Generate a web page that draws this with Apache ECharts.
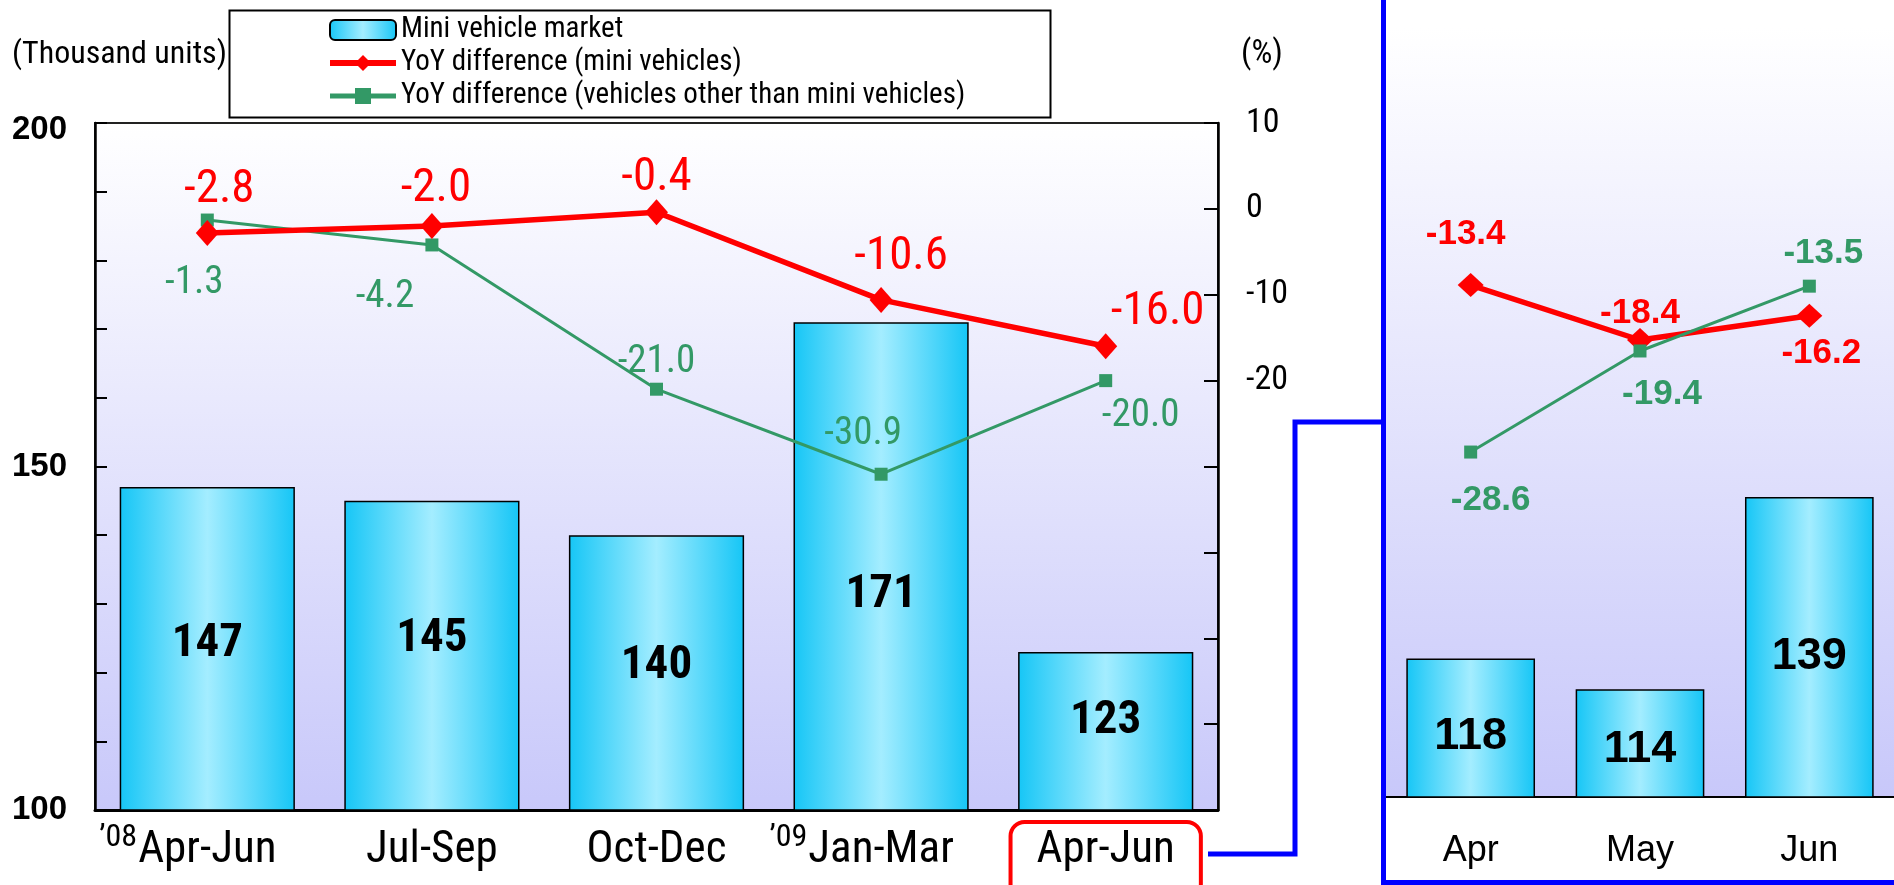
<!DOCTYPE html>
<html>
<head>
<meta charset="utf-8">
<script src="https://cdn.jsdelivr.net/npm/echarts@6/dist/echarts.min.js"></script>
<style>
  html, body { margin: 0; padding: 0; background: #ffffff; }
  #chart { width: 1894px; height: 885px; }
</style>
</head>
<body>
<div id="chart"></div>
<script>
// ---------- data ----------
const quarterLabels = ['Apr-Jun', 'Jul-Sep', 'Oct-Dec', 'Jan-Mar', 'Apr-Jun'];
const quarterYears = ['\u201908', '', '', '\u201909', ''];
const quarterMarket = [147, 145, 140, 171, 123];
const quarterMiniYoY = [-2.8, -2.0, -0.4, -10.6, -16.0];
const quarterOtherYoY = [-1.3, -4.2, -21.0, -30.9, -20.0];

const monthLabels = ['Apr', 'May', 'Jun'];
const monthMarket = [118, 114, 139];
const monthMiniYoY = [-13.4, -18.4, -16.2];
const monthOtherYoY = [-28.6, -19.4, -13.5];

const leftTicks = { min: 100, max: 200, step: 10 };
const rightTicks = { min: -70, max: 10, step: 10 };

const NAME_BAR = 'Mini vehicle market';
const NAME_MINI = 'YoY difference (mini vehicles)';
const NAME_OTHER = 'YoY difference (vehicles other than mini vehicles)';

// ---------- styles ----------
const NARROW = "'Roboto Condensed', 'Open Sans', sans-serif";
const SANS = "'Liberation Sans', Arial, 'DejaVu Sans', sans-serif";
const RED = '#ff0000';
const GREEN = '#339966';

const barFill = {
  type: 'linear', x: 0, y: 0, x2: 1, y2: 0,
  colorStops: [
    { offset: 0, color: '#16c6f6' },
    { offset: 0.5, color: '#a4edff' },
    { offset: 1, color: '#16c6f6' }
  ]
};
const plotBg = {
  type: 'linear', x: 0, y: 0, x2: 0, y2: 1,
  colorStops: [
    { offset: 0, color: '#ffffff' },
    { offset: 1, color: '#c8c8fa' }
  ]
};

// label offsets (layout only)
const qMiniOff = [[12, -43], [4, -37], [0, -34], [20, -43], [52, -34]];
const qOtherOff = [[-13, 63], [-47, 52], [0, -27], [-18, -40], [35, 36]];
const qBarOff = [[0, -5], [0, -17], [0, -7], [0, 29], [0, -10]];
const mMiniOff = [[-5, -51], [0, -27], [12, 38]];
const mOtherOff = [[20, 48], [22, 43], [14, -33]];
const mBarOff = [[0, 8], [0, 6], [0, 9]];

function withOffsets(values, offs) {
  return values.map((v, i) => ({ value: v, label: { offset: offs[i] } }));
}

const chart = echarts.init(document.getElementById('chart'), null, { renderer: 'canvas' });

const option = {
  backgroundColor: '#ffffff',
  animation: false,
  textStyle: { fontFamily: NARROW },
  legend: {
    orient: 'vertical',
    left: 322,
    top: 9,
    itemWidth: 66,
    itemHeight: 20,
    itemGap: 1,
    data: [
      { name: NAME_BAR },
      { name: NAME_MINI, lineStyle: { width: 6 } },
      { name: NAME_OTHER, lineStyle: { width: 5 } }
    ],
    textStyle: { fontFamily: NARROW, fontSize: 29, color: '#000', lineHeight: 32 }
  },
  grid: [
    {
      left: 95, right: 676, top: 123, bottom: 75,
      outerBoundsMode: 'none', containLabel: false,
      show: true, backgroundColor: plotBg, borderColor: '#222', borderWidth: 2
    },
    {
      left: 1386, right: 0, top: 28, bottom: 88,
      outerBoundsMode: 'none', containLabel: false,
      show: true, backgroundColor: plotBg, borderWidth: 0
    }
  ],
  xAxis: [
    {
      type: 'category', gridIndex: 0,
      data: quarterLabels.map((c, i) => i === quarterLabels.length - 1
        ? { value: c, textStyle: { borderColor: RED, borderWidth: 4, borderRadius: 14, padding: [0, 26, 18, 26] } }
        : c),
      axisLine: { onZero: false, lineStyle: { color: '#000', width: 3 } },
      axisTick: { inside: true, length: 14, lineStyle: { color: '#000', width: 2 } },
      axisLabel: {
        interval: 0,
        margin: 12,
        color: '#000',
        formatter: (v, i) => quarterYears[i]
          ? '{sup|' + quarterYears[i] + '}{main|' + v + '}{pad|}'
          : '{main|' + v + '}',
        rich: {
          sup: { fontFamily: NARROW, fontSize: 32, color: '#000', verticalAlign: 'top', width: 40, align: 'right', lineHeight: 32 },
          main: { fontFamily: NARROW, fontSize: 45, color: '#000', lineHeight: 58 },
          pad: { width: 40 }
        }
      }
    },
    {
      type: 'category', gridIndex: 1,
      data: monthLabels,
      axisLine: { onZero: false, lineStyle: { color: '#000', width: 2 } },
      axisTick: { inside: true, length: 8, lineStyle: { color: '#000', width: 2 } },
      axisLabel: { interval: 0, margin: 36, color: '#000', fontFamily: SANS, fontSize: 36 }
    }
  ],
  yAxis: [
    {
      type: 'value', gridIndex: 0, position: 'left',
      min: leftTicks.min, max: leftTicks.max, interval: leftTicks.step,
      splitLine: { show: false },
      axisLine: { show: true, onZero: false, lineStyle: { color: '#000', width: 2.5 } },
      axisTick: { show: true, inside: true, length: 12, lineStyle: { color: '#000', width: 2 } },
      axisLabel: {
        margin: 28, color: '#000', fontFamily: SANS, fontWeight: 'bold', fontSize: 33,
        formatter: v => (v === leftTicks.max ? '{top|' + v + '}' : (v % 50 === 0 ? String(v) : '')),
        rich: {
          top: { fontFamily: SANS, fontWeight: 'bold', fontSize: 33, color: '#000', padding: [14, 0, 0, 0] }
        }
      }
    },
    {
      type: 'value', gridIndex: 0, position: 'right',
      min: rightTicks.min, max: rightTicks.max, interval: rightTicks.step,
      splitLine: { show: false },
      axisLine: { show: true, onZero: false, lineStyle: { color: '#000', width: 2.5 } },
      axisTick: { show: true, inside: true, length: 14, lineStyle: { color: '#000', width: 2 } },
      axisLabel: {
        margin: 28, color: '#000', fontFamily: NARROW, fontSize: 34,
        formatter: v => (v >= -20 ? String(v) : '')
      }
    },
    {
      type: 'value', gridIndex: 1, min: 100, max: 200,
      show: false, splitLine: { show: false }
    },
    {
      type: 'value', gridIndex: 1, min: -60, max: 10,
      show: false, splitLine: { show: false }
    }
  ],
  series: [
    {
      name: NAME_BAR, type: 'bar', xAxisIndex: 0, yAxisIndex: 0,
      data: withOffsets(quarterMarket, qBarOff),
      barCategoryGap: '22%',
      itemStyle: { color: barFill, borderColor: '#000', borderWidth: 1.5 },
      label: { show: true, position: 'inside', color: '#000', fontFamily: NARROW, fontWeight: 'bold', fontSize: 47 },
      z: 2
    },
    {
      name: NAME_OTHER, type: 'line', xAxisIndex: 0, yAxisIndex: 1,
      data: withOffsets(quarterOtherYoY, qOtherOff),
      symbol: 'rect', symbolSize: 13,
      lineStyle: { color: GREEN, width: 3 },
      itemStyle: { color: GREEN },
      label: { show: true, position: 'inside', color: GREEN, fontFamily: NARROW, fontSize: 39, formatter: p => p.value.toFixed(1) },
      z: 3
    },
    {
      name: NAME_MINI, type: 'line', xAxisIndex: 0, yAxisIndex: 1,
      data: withOffsets(quarterMiniYoY, qMiniOff),
      symbol: 'diamond', symbolSize: [23, 26],
      lineStyle: { color: RED, width: 5.5 },
      itemStyle: { color: RED },
      label: { show: true, position: 'inside', color: RED, fontFamily: NARROW, fontSize: 47, formatter: p => p.value.toFixed(1) },
      z: 4
    },
    {
      name: NAME_BAR, type: 'bar', xAxisIndex: 1, yAxisIndex: 2,
      data: withOffsets(monthMarket, mBarOff),
      barCategoryGap: '24%',
      itemStyle: { color: barFill, borderColor: '#000', borderWidth: 1.5 },
      label: { show: true, position: 'inside', color: '#000', fontFamily: SANS, fontWeight: 'bold', fontSize: 45 },
      z: 2
    },
    {
      name: NAME_MINI, type: 'line', xAxisIndex: 1, yAxisIndex: 3,
      data: withOffsets(monthMiniYoY, mMiniOff),
      symbol: 'diamond', symbolSize: [26, 24],
      lineStyle: { color: RED, width: 5.5 },
      itemStyle: { color: RED },
      label: { show: true, position: 'inside', color: RED, fontFamily: SANS, fontWeight: 'bold', fontSize: 35, formatter: p => p.value.toFixed(1) },
      z: 3
    },
    {
      name: NAME_OTHER, type: 'line', xAxisIndex: 1, yAxisIndex: 3,
      data: withOffsets(monthOtherYoY, mOtherOff),
      symbol: 'rect', symbolSize: 13,
      lineStyle: { color: GREEN, width: 3 },
      itemStyle: { color: GREEN },
      label: { show: true, position: 'inside', color: GREEN, fontFamily: SANS, fontWeight: 'bold', fontSize: 35, formatter: p => p.value.toFixed(1) },
      z: 4
    }
  ],
  graphic: [
    {
      type: 'rect', left: 227, top: 8, z: 0, silent: true,
      shape: { width: 821, height: 107 },
      style: { fill: 'none', stroke: '#000', lineWidth: 2 }
    },
    {
      type: 'text', x: 12, y: 55, silent: true,
      style: { text: '(Thousand units)', fontFamily: NARROW, fontSize: 32, fill: '#000', verticalAlign: 'middle' }
    },
    {
      type: 'text', x: 1262, y: 55, silent: true,
      style: { text: '(%)', fontFamily: NARROW, fontSize: 33, fill: '#000', align: 'center', verticalAlign: 'middle' }
    },
    {
      type: 'polyline', silent: true, z: 10,
      shape: { points: [[1208, 854], [1295, 854], [1295, 422], [1383, 422]] },
      style: { stroke: '#0000ff', lineWidth: 5, fill: null }
    },
    {
      type: 'polyline', silent: true, z: 10,
      shape: { points: [[1383.5, -5], [1383.5, 882.5], [1900, 882.5]] },
      style: { stroke: '#0000ff', lineWidth: 5, fill: null }
    }
  ]
};

chart.setOption(option);
</script>
</body>
</html>
